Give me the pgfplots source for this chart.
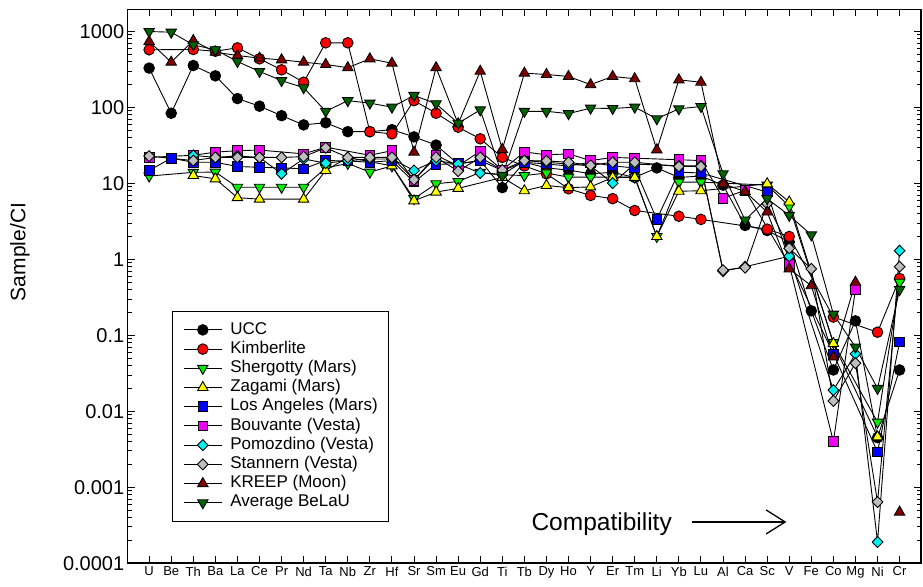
\documentclass[border=0pt]{standalone}
\usepackage{pgfplots}
\pgfplotsset{compat=1.18}
\usepackage{fontspec}
\setmainfont{Liberation Sans}
\usetikzlibrary{arrows.meta}
\definecolor{cLime}{RGB}{0,240,0}
\definecolor{cDkGreen}{RGB}{0,100,0}
\definecolor{cDkRed}{RGB}{128,0,0}
\definecolor{cCyan}{RGB}{0,240,240}
\definecolor{cMag}{RGB}{240,0,240}
\definecolor{cGray}{RGB}{190,190,190}
\definecolor{cYel}{RGB}{255,255,0}
\definecolor{cBlue}{RGB}{0,0,255}
\definecolor{cRed}{RGB}{255,0,0}
\begin{document}
\begin{tikzpicture}
\begin{axis}[
  name=ax,
  set layers, mark layer=axis foreground,
  scale only axis, width=793pt, height=553.5pt,
  xmin=-0.97, xmax=34.97,
  ymode=log, ymin=1e-4, ymax=1950,
  xtick={0,...,34},
  xticklabels={U,Be,Th,Ba,La,Ce,Pr,Nd,Ta,Nb,Zr,Hf,Sr,Sm,Eu,Gd,Ti,Tb,Dy,Ho,Y,Er,Tm,Li,Yb,Lu,Al,Ca,Sc,V,Fe,Co,Mg,Ni,Cr},
  ytick={1e-4,1e-3,0.01,0.1,1,10,100,1000},
  yticklabels={0.0001,0.001,0.01,0.1,1,10,100,1000},
  minor ytick={2e-4,3e-4,4e-4,5e-4,6e-4,7e-4,8e-4,9e-4,
    2e-3,3e-3,4e-3,5e-3,6e-3,7e-3,8e-3,9e-3,
    0.02,0.03,0.04,0.05,0.06,0.07,0.08,0.09,
    0.2,0.3,0.4,0.5,0.6,0.7,0.8,0.9,
    2,3,4,5,6,7,8,9,20,30,40,50,60,70,80,90,
    200,300,400,500,600,700,800,900},
  tick align=inside,
  major tick length=7pt, minor tick length=4pt,
  axis line style={line width=1.4pt},
  every tick/.style={black, line width=1pt},
  xticklabel style={font=\fontsize{13}{13}\selectfont},
  yticklabel style={font=\fontsize{20}{20}\selectfont},
  ylabel={Sample/CI},
  ylabel style={font=\fontsize{21}{21}\selectfont, at={(axis description cs:-0.136,0.562)}, anchor=center},
  unbounded coords=jump,
  every axis plot/.append style={black, line width=0.9pt},
  legend image code/.code={\draw[mark repeat=2,mark phase=2,#1] plot coordinates {(0pt,0pt) (19pt,0pt) (38pt,0pt)};},
  legend style={at={(axis description cs:0.0555,0.456)}, anchor=north west, draw=black, line width=1.2pt,
    font=\fontsize{17}{17}\selectfont, cells={anchor=west}, row sep=0pt, column sep=8pt,
    inner xsep=11pt, inner ysep=9pt,
    nodes={inner ysep=1.2pt, inner xsep=0pt, text height=12.5pt, text depth=4.3pt}},
]
% UCC
\addplot[mark=*, mark size=5.3pt, mark options={fill=black}] coordinates {
(0,330)(1,84)(2,357)(3,261)(4,131)(5,104)(6,78)(7,59)(8,63)(9,48)(10,48)(11,51)(12,41)(13,32)(14,18)(15,20)(16,8.8)(17,19)(18,16)(19,15)(20,13.4)(21,14)(22,12)(23,16)(24,12)(25,12.5)(26,9.5)(27,2.8)(28,2.4)(29,1.7)(30,0.21)(31,0.035)(32,0.155)(33,0.0045)(34,0.035)};
\addlegendentry{UCC}
% Kimberlite
\addplot[mark=*, mark size=5.3pt, mark options={fill=cRed}] coordinates {
(0,575)(2,580)(3,550)(4,610)(5,437)(6,313)(7,215)(8,710)(9,710)(10,48)(11,45)(12,123)(13,84)(14,55)(15,38.7)(16,22)(17,17)(18,13.4)(19,8.5)(20,6.95)(21,6.3)(22,4.4)(24,3.7)(25,3.36)(28,2.5)(29,2.0)(31,0.174)(33,0.11)(34,0.56)};
\addlegendentry{Kimberlite}
% Shergotty
\addplot[mark=triangle*, mark size=6pt, mark options={fill=cLime, rotate=180}] coordinates {
(0,12.5)(2,14)(3,14.1)(4,8.9)(5,8.9)(6,8.9)(7,8.9)(8,16)(9,18.3)(10,14.1)(11,17)(12,6.3)(13,9.9)(14,10.6)(15,14)(16,13)(17,12.7)(18,13.7)(19,12.1)(20,12.1)(21,12.1)(22,12.1)(23,2.0)(24,10.4)(25,10.4)(28,9.5)(29,5.0)(31,0.08)(33,0.0072)(34,0.5)};
\addlegendentry{Shergotty (Mars)}
% Zagami
\addplot[mark=triangle*, mark size=6pt, mark options={fill=cYel}] coordinates {
(2,12.7)(3,11.5)(4,6.5)(5,6.2)(7,6.2)(8,14.8)(9,22)(11,17)(12,5.9)(13,7.7)(14,8.6)(16,12)(17,8.0)(18,9.4)(19,8.8)(20,9.0)(21,12)(22,12)(23,2.0)(24,7.9)(25,8.0)(28,9.9)(29,5.7)(31,0.078)(33,0.0046)};
\addlegendentry{Zagami (Mars)}
% Los Angeles
\addplot[mark=square*, mark size=4.8pt, mark options={fill=cBlue}] coordinates {
(0,14.8)(1,21.5)(2,19)(3,19)(4,16.7)(5,16.3)(6,16)(7,15.6)(8,20)(9,19.8)(10,19)(11,20)(12,10.4)(13,17.8)(14,18.2)(15,20)(16,14.8)(17,19)(18,18)(19,17)(20,19)(21,17)(22,16)(23,3.36)(24,14.1)(25,13.7)(28,7.7)(29,0.95)(31,0.057)(33,0.0029)(34,0.082)};
\addlegendentry{Los Angeles (Mars)}
% Bouvante
\addplot[mark=square*, mark size=4.8pt, mark options={fill=cMag}] coordinates {
(0,22)(2,23.5)(3,25.8)(4,27)(5,27.5)(7,24.5)(8,30)(10,23.5)(11,27)(12,11)(13,23.5)(14,17)(15,26.6)(16,15)(17,26)(18,23.8)(19,24.5)(20,20)(21,22)(22,21.5)(24,20.5)(25,20)(26,6.4)(27,8.1)(29,0.85)(31,0.004)(32,0.4)};
\addlegendentry{Bouvante (Vesta)}
% Pomozdino
\addplot[mark=diamond*, mark size=5.5pt, mark options={fill=cCyan, xscale=1.3}] coordinates {
(2,23.4)(3,22)(4,23)(5,22)(6,13.4)(7,21)(8,18.5)(9,20)(10,21)(11,21)(12,14.8)(13,20)(14,18)(15,13.7)(16,13)(17,20)(18,19)(19,18)(20,17)(21,10.1)(22,18)(24,17)(25,17)(26,0.7)(27,0.8)(29,1.1)(31,0.019)(32,0.057)(33,0.00019)(34,1.3)};
\addlegendentry{Pomozdino (Vesta)}
% Stannern
\addplot[mark=diamond*, mark size=5.5pt, mark options={fill=cGray, xscale=1.3}] coordinates {
(0,22.9)(2,20)(3,22)(4,22)(5,22)(6,22)(7,22.5)(8,29.5)(9,22)(10,22)(11,22)(12,11.2)(13,22)(14,14.5)(15,22)(16,15)(17,20)(18,19.8)(19,19)(20,17.3)(21,19)(22,19)(24,16.7)(25,16.7)(26,0.72)(27,0.78)(28,5.4)(29,1.4)(30,0.75)(31,0.0137)(32,0.043)(33,0.00064)(34,0.8)};
\addlegendentry{Stannern (Vesta)}
% KREEP
\addplot[mark=triangle*, mark size=6pt, mark options={fill=cDkRed}] coordinates {
(0,740)(1,395)(2,760)(3,534)(4,483)(5,446)(6,424)(7,395)(8,368)(9,334)(10,437)(11,383)(12,25.8)(13,334)(14,61)(15,300)(16,28)(17,283)(18,272)(19,256)(20,200)(21,256)(22,239)(23,27.7)(24,231)(25,215)(26,9.9)(27,7.8)(28,4.2)(29,0.75)(30,0.45)(31,0.052)(32,0.5)(33,nan)(34,0.00047)};
\addlegendentry{KREEP (Moon)}
% Average BeLaU
\addplot[mark=triangle*, mark size=6pt, mark options={fill=cDkGreen, rotate=180}] coordinates {
(0,1000)(1,980)(2,668)(3,575)(4,403)(5,298)(6,226)(7,182)(8,89)(9,123)(10,114)(11,101)(12,144)(13,112)(14,62)(15,93)(16,12.7)(17,89)(18,89)(19,83)(20,98)(21,97)(22,101)(23,71)(24,96)(25,103)(26,13.4)(27,3.3)(28,6.3)(29,3.8)(30,2.1)(31,0.19)(32,0.07)(33,0.02)(34,0.4)};
\addlegendentry{Average BeLaU}
\node[font=\fontsize{24.5}{24.5}\selectfont, anchor=base east, inner sep=0pt] at (axis cs:23.69,2.72e-4) {Compatibility};
\draw[-{Straight Barb[length=19pt,width=24pt]}, line width=1.3pt] (axis cs:24.6,3.49e-4) -- (axis cs:28.87,3.49e-4);
\end{axis}
\path ([shift={(-127.7pt,-23pt)}]ax.south west) rectangle ([shift={(2pt,9.5pt)}]ax.north east);
\end{tikzpicture}
\end{document}
